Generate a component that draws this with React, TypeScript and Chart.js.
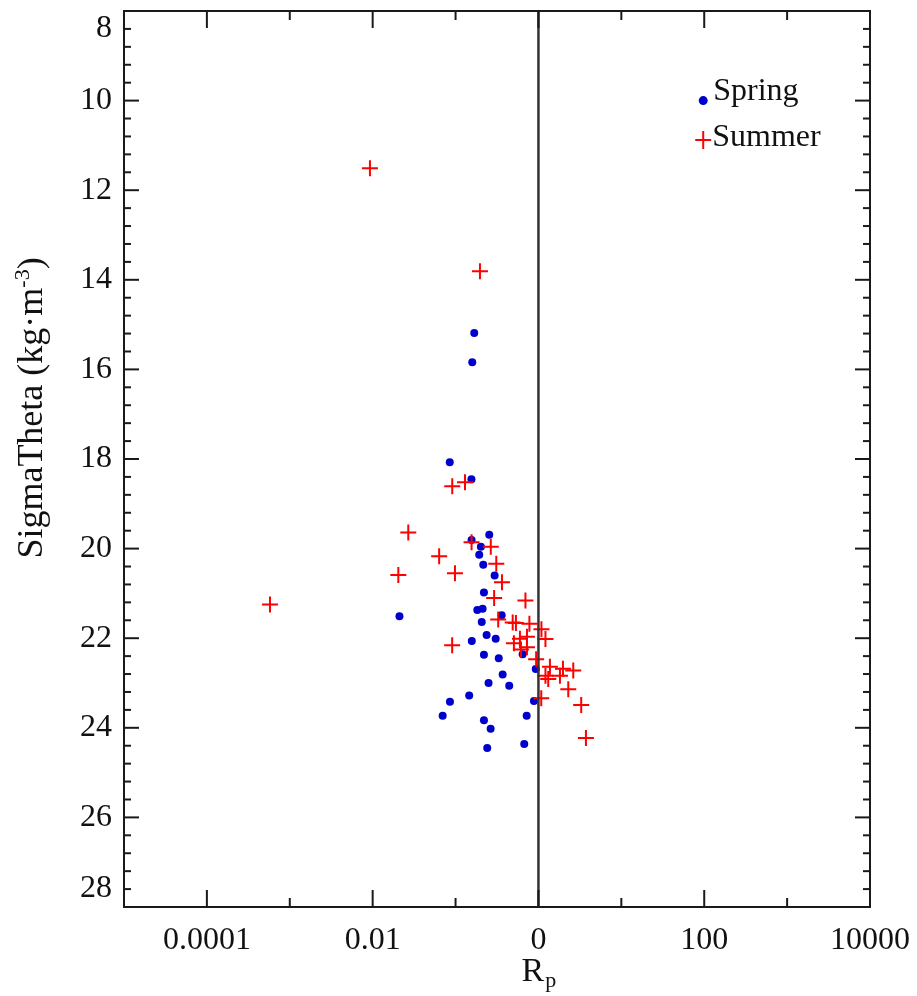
import React, { useEffect, useRef } from 'react';
import { Chart, registerables } from 'chart.js';

Chart.register(...registerables);

// Spring: density ratio Rp (x) and SigmaTheta (y)
const springRp = [
  0.168, 0.159, 0.0851, 0.1555, 0.255, 0.156, 0.202, 0.193, 0.216, 0.296,
  0.22, 0.02105, 0.183, 0.212, 0.36, 0.207, 0.237, 0.157, 0.305, 0.22,
  0.332, 0.645, 0.928, 0.37, 0.25, 0.444, 0.146, 0.0856, 0.883, 0.0699,
  0.721, 0.22, 0.265, 0.241, 0.674,
];
const springSigma = [
  15.19, 15.84, 18.07, 18.45, 19.69, 19.81, 19.96, 20.14, 20.36, 20.6,
  20.98, 21.51, 21.37, 21.34, 21.49, 21.64, 21.93, 22.06, 22.01, 22.37,
  22.45, 22.36, 22.69, 22.81, 23.0, 23.06, 23.28, 23.42, 23.4, 23.73,
  23.73, 23.83, 24.02, 24.45, 24.36,
];

// Summer
const summerRp = [
  0.00927, 0.197, 0.000577, 0.0912, 0.13, 0.0269, 0.0634, 0.156, 0.266, 0.0204,
  0.0984, 0.31, 0.363, 0.292, 0.697, 0.091, 0.327, 0.489, 0.535, 0.778,
  1.087, 1.215, 0.506, 0.598, 0.727, 0.727, 0.615, 0.938, 1.376, 1.976,
  2.63, 1.215, 1.313, 1.817, 2.29, 1.081, 3.28, 3.74,
];
const summerSigma = [
  11.51, 13.81, 21.25, 18.61, 18.52, 19.64, 20.17, 19.86, 19.96, 20.59,
  20.55, 20.34, 20.75, 21.1, 21.16, 22.16, 21.58, 21.65, 21.66, 21.68,
  21.8, 22.02, 22.11, 22.01, 21.97, 22.2, 22.25, 22.47, 22.64, 22.68,
  22.72, 22.84, 22.91, 22.84, 23.14, 23.34, 23.49, 24.23,
];

// Axis ticks and labels
const xTickValues = [1e-5, 1e-4, 1e-3, 1e-2, 1e-1, 1, 10, 100, 1000, 10000];
const xTickLabels = ['', '0.0001', '', '0.01', '', '0', '', '100', '', '10000'];
const yMajorTicks = [10, 12, 14, 16, 18, 20, 22, 24, 26];
const yLabeledTicks = [8.4, 10, 12, 14, 16, 18, 20, 22, 24, 26, 27.6];
const yTickLabels = ['8', '10', '12', '14', '16', '18', '20', '22', '24', '26', '28'];
const yMinorStep = 0.4;

const seriesNames = ['Spring', 'Summer'];
const SERIF = '"Liberation Serif", "Times New Roman", serif';

const framePlugin = {
  id: 'frameAndText',
  afterDraw(chart: any) {
    const { ctx, chartArea: a, scales } = chart;
    const x = scales.x;
    const y = scales.y;
    ctx.save();
    ctx.strokeStyle = '#1a1a1a';
    ctx.lineWidth = 2;
    const line = (x1: number, y1: number, x2: number, y2: number) => {
      ctx.beginPath();
      ctx.moveTo(x1, y1);
      ctx.lineTo(x2, y2);
      ctx.stroke();
    };
    // reference line at Rp = 1
    const xOne = x.getPixelForValue(1);
    ctx.strokeStyle = '#333333';
    ctx.lineWidth = 2.5;
    line(xOne, a.top, xOne, a.bottom);
    ctx.strokeStyle = '#1a1a1a';
    ctx.lineWidth = 2;
    // x ticks (inward, bottom and top)
    xTickValues.forEach((v, i) => {
      if (v <= x.min * 1.0001 || v >= x.max * 0.9999) return;
      const px = x.getPixelForValue(v);
      const len = xTickLabels[i] ? 17 : 9;
      line(px, a.bottom, px, a.bottom - len);
      line(px, a.top, px, a.top + len);
    });
    // y ticks (inward, left and right)
    y.ticks.forEach((t: any) => {
      const v = t.value;
      if (v <= y.min + 1e-6 || v >= y.max - 1e-6) return;
      const py = y.getPixelForValue(v);
      const major = yMajorTicks.some((m) => Math.abs(m - v) < 1e-6);
      const len = major ? 15 : 7;
      line(a.left, py, a.left + len, py);
      line(a.right, py, a.right - len, py);
    });
    // frame
    ctx.strokeRect(a.left, a.top, a.right - a.left, a.bottom - a.top);

    // legend
    const lx = x.getPixelForValue(100);
    const ly1 = y.getPixelForValue(10);
    const ly2 = y.getPixelForValue(10.88);
    ctx.fillStyle = '#0000cc';
    ctx.beginPath();
    ctx.arc(lx - 1, ly1, 4.5, 0, Math.PI * 2);
    ctx.fill();
    ctx.strokeStyle = '#ff0000';
    ctx.lineWidth = 2;
    line(lx - 9, ly2, lx + 7, ly2);
    line(lx - 1, ly2 - 9, lx - 1, ly2 + 9);
    ctx.fillStyle = '#111111';
    ctx.font = `32px ${SERIF}`;
    ctx.textAlign = 'left';
    ctx.textBaseline = 'alphabetic';
    ctx.fillText(seriesNames[0], lx + 9, ly1 - 1);
    ctx.fillText(seriesNames[1], lx + 8, ly2 + 6);

    // x title R_p
    ctx.font = `34px ${SERIF}`;
    const rW = ctx.measureText('R').width;
    ctx.font = `22px ${SERIF}`;
    const pW = ctx.measureText('p').width;
    const startX = xOne - (rW + pW) / 2;
    ctx.font = `34px ${SERIF}`;
    ctx.fillText('R', startX, 981);
    ctx.font = `22px ${SERIF}`;
    ctx.fillText('p', startX + rW + 1, 987);

    // y title
    ctx.save();
    ctx.translate(42, 408);
    ctx.rotate(-Math.PI / 2);
    const main = 'SigmaTheta (kg\u00b7m';
    const sup = '-3';
    const close = ')';
    ctx.font = `36px ${SERIF}`;
    const w1 = ctx.measureText(main).width;
    const w3 = ctx.measureText(close).width;
    ctx.font = `22px ${SERIF}`;
    const w2 = ctx.measureText(sup).width;
    let sx = -(w1 + w2 + w3) / 2;
    ctx.font = `36px ${SERIF}`;
    ctx.fillText(main, sx, 0);
    sx += w1;
    ctx.font = `22px ${SERIF}`;
    ctx.fillText(sup, sx, -13);
    sx += w2;
    ctx.font = `36px ${SERIF}`;
    ctx.fillText(close, sx, 0);
    ctx.restore();

    ctx.restore();
  },
};

export default function App() {
  const ref = useRef<HTMLCanvasElement | null>(null);

  useEffect(() => {
    document.body.style.margin = '0';
    const canvas = ref.current;
    if (!canvas) return;
    const springData = springRp.map((v, i) => ({ x: v, y: springSigma[i] }));
    const summerData = summerRp.map((v, i) => ({ x: v, y: summerSigma[i] }));

    const chart = new Chart(canvas, {
      type: 'scatter',
      data: {
        datasets: [
          {
            label: seriesNames[1],
            data: summerData,
            pointStyle: 'cross',
            pointRadius: 8,
            borderColor: '#ff0000',
            backgroundColor: '#ff0000',
            pointBorderWidth: 2,
            borderWidth: 2,
          },
          {
            label: seriesNames[0],
            data: springData,
            pointStyle: 'circle',
            pointRadius: 4,
            backgroundColor: '#0000cc',
            borderColor: '#0000cc',
            pointBorderWidth: 0,
            borderWidth: 0,
          },
        ],
      },
      options: {
        responsive: false,
        animation: false,
        devicePixelRatio: 1,
        layout: { padding: { left: 0, right: 47, top: 11, bottom: 0 } },
        plugins: {
          legend: { display: false },
          tooltip: { enabled: false },
          title: { display: false },
        },
        scales: {
          x: {
            type: 'logarithmic',
            min: 1e-5,
            max: 1e4,
            afterBuildTicks: (s: any) => {
              s.ticks = xTickValues.map((v) => ({ value: v }));
            },
            afterFit: (s: any) => {
              s.height = 89;
              s.paddingLeft = 0;
              s.paddingRight = 0;
              s.paddingTop = 0;
              s.paddingBottom = 0;
            },
            grid: { display: true, drawOnChartArea: false, drawTicks: false },
            border: { display: false },
            ticks: {
              autoSkip: false,
              maxRotation: 0,
              minRotation: 0,
              padding: 14,
              color: '#111111',
              font: { family: SERIF, size: 32 },
              callback: (value: any) => {
                const i = xTickValues.findIndex((t) => Math.abs(Math.log10(t) - Math.log10(Number(value))) < 1e-6);
                return i >= 0 ? xTickLabels[i] : '';
              },
            },
          },
          y: {
            type: 'linear',
            min: 8,
            max: 28,
            reverse: true,
            afterBuildTicks: (s: any) => {
              const ticks = [];
              const n = Math.round((28 - 8) / yMinorStep);
              for (let i = 0; i <= n; i++) ticks.push({ value: Math.round((8 + i * yMinorStep) * 10) / 10 });
              s.ticks = ticks;
            },
            afterFit: (s: any) => {
              s.width = 124;
              s.paddingLeft = 0;
              s.paddingRight = 0;
              s.paddingTop = 0;
              s.paddingBottom = 0;
            },
            grid: { display: true, drawOnChartArea: false, drawTicks: false },
            border: { display: false },
            ticks: {
              autoSkip: false,
              padding: 12,
              color: '#111111',
              font: { family: SERIF, size: 32 },
              callback: (value: any) => {
                const i = yLabeledTicks.findIndex((t) => Math.abs(t - Number(value)) < 1e-6);
                return i >= 0 ? yTickLabels[i] : '';
              },
            },
          },
        },
      },
      plugins: [framePlugin],
    });
    return () => chart.destroy();
  }, []);

  return (
    <div style={{ width: 917, height: 996, background: '#ffffff' }}>
      <canvas ref={ref} width={917} height={996} style={{ display: 'block' }} />
    </div>
  );
}
